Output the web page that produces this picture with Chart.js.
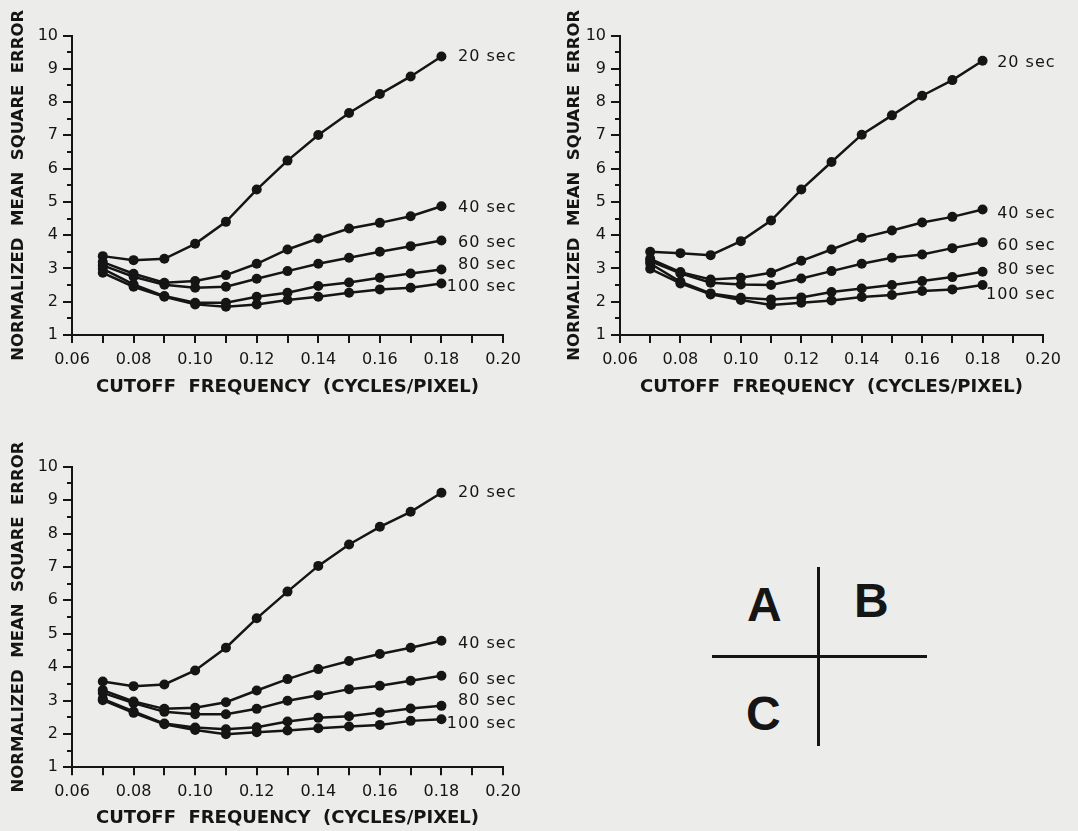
<!DOCTYPE html>
<html>
<head>
<meta charset="utf-8">
<script src="https://cdn.jsdelivr.net/npm/chart.js@4.4.1/dist/chart.umd.min.js"></script>
<style>
  body { margin: 0; background: #ececea; }
  #page { position: relative; width: 1078px; height: 831px; overflow: hidden; }
  canvas { position: absolute; }
  .key-line { position: absolute; background: #151515; }
  .key-letter { position: absolute; font: bold 48px "Liberation Sans", Arial, sans-serif; line-height: 48px; color: #151515; }
</style>
</head>
<body>
<div id="page">
  <canvas id="chartA" width="545" height="400" style="left:0;top:0"></canvas>
  <canvas id="chartB" width="530" height="400" style="left:548px;top:0"></canvas>
  <canvas id="chartC" width="545" height="400" style="left:0;top:431px"></canvas>

  <!-- panel key -->
  <div class="key-line" style="left:817px;top:567px;width:3px;height:179px"></div>
  <div class="key-line" style="left:712px;top:655px;width:215px;height:3px"></div>
  <div class="key-letter" style="left:747px;top:581px">A</div>
  <div class="key-letter" style="left:854px;top:577px">B</div>
  <div class="key-letter" style="left:746px;top:690px">C</div>
</div>

<script>
// cutoff frequencies (cycles/pixel)
const freq = [0.07, 0.08, 0.09, 0.10, 0.11, 0.12, 0.13, 0.14, 0.15, 0.16, 0.17, 0.18];
const seriesNames = ["20 sec", "40 sec", "60 sec", "80 sec", "100 sec"];

// panel A
const a20  = [3.37, 3.25, 3.29, 3.74, 4.40, 5.37, 6.24, 7.01, 7.67, 8.24, 8.77, 9.37];
const a40  = [3.19, 2.84, 2.57, 2.62, 2.80, 3.14, 3.57, 3.90, 4.20, 4.37, 4.57, 4.87];
const a60  = [3.09, 2.75, 2.51, 2.42, 2.45, 2.69, 2.92, 3.14, 3.32, 3.50, 3.67, 3.84];
const a80  = [2.99, 2.52, 2.17, 1.97, 1.97, 2.15, 2.27, 2.47, 2.58, 2.72, 2.85, 2.97];
const a100 = [2.87, 2.45, 2.15, 1.92, 1.85, 1.92, 2.05, 2.15, 2.27, 2.37, 2.42, 2.55];

// panel B
const b20  = [3.50, 3.46, 3.40, 3.82, 4.44, 5.37, 6.20, 7.02, 7.60, 8.19, 8.66, 9.24];
const b40  = [3.29, 2.89, 2.67, 2.72, 2.87, 3.23, 3.57, 3.92, 4.14, 4.38, 4.55, 4.77];
const b60  = [3.22, 2.85, 2.57, 2.52, 2.50, 2.70, 2.92, 3.14, 3.32, 3.42, 3.61, 3.79];
const b80  = [3.15, 2.60, 2.25, 2.12, 2.07, 2.13, 2.29, 2.40, 2.50, 2.62, 2.74, 2.90];
const b100 = [2.99, 2.55, 2.22, 2.05, 1.90, 1.97, 2.04, 2.14, 2.20, 2.32, 2.37, 2.50];

// panel C
const c20  = [3.57, 3.43, 3.48, 3.90, 4.58, 5.46, 6.26, 7.03, 7.67, 8.20, 8.65, 9.22];
const c40  = [3.31, 2.97, 2.75, 2.78, 2.95, 3.30, 3.64, 3.94, 4.18, 4.39, 4.58, 4.79];
const c60  = [3.23, 2.92, 2.66, 2.59, 2.59, 2.75, 2.99, 3.16, 3.34, 3.44, 3.59, 3.74];
const c80  = [3.05, 2.67, 2.31, 2.19, 2.14, 2.20, 2.37, 2.48, 2.53, 2.64, 2.76, 2.84];
const c100 = [3.01, 2.63, 2.29, 2.12, 1.99, 2.05, 2.10, 2.17, 2.22, 2.27, 2.39, 2.44];

const xTitle = "CUTOFF  FREQUENCY  (CYCLES/PIXEL)";
const yTitle = "NORMALIZED  MEAN  SQUARE  ERROR";

const ink = "#151515";
const tickFont = { family: "DejaVu Sans", size: 16 };
const xTitleFont = { family: "DejaVu Sans", size: 18, weight: "bold" };
const yTitleFont = { family: "DejaVu Sans", size: 16.5, weight: "bold" };

// "20 sec" ... labels next to the last point of each curve
const endLabels = {
    id: "endLabels",
    afterDatasetsDraw(chart, args, opts) {
        const ctx = chart.ctx;
        ctx.save();
        ctx.font = '16px "DejaVu Sans"';
        ctx.fillStyle = ink;
        ctx.textAlign = "right";
        ctx.textBaseline = "middle";
        ctx.letterSpacing = "1px";
        chart.data.datasets.forEach((ds, i) => {
            const pts = chart.getDatasetMeta(i).data;
            const last = pts[pts.length - 1];
            ctx.fillText(ds.label, last.x + opts.dx, last.y + opts.dy[i]);
        });
        ctx.restore();
    }
};

// shorter ticks at the half units of the y axis
const minorTicks = {
    id: "minorTicks",
    afterDraw(chart) {
        const y = chart.scales.y;
        const ctx = chart.ctx;
        ctx.save();
        ctx.strokeStyle = ink;
        ctx.lineWidth = 2;
        y.ticks.forEach(t => {
            if (Number.isInteger(t.value)) return;
            const py = Math.round(y.getPixelForValue(t.value));
            ctx.beginPath();
            ctx.moveTo(y.right - 5, py);
            ctx.lineTo(y.right, py);
            ctx.stroke();
        });
        ctx.restore();
    }
};

function makePanel(id, series, layout) {
    new Chart(document.getElementById(id), {
        type: "line",
        data: {
            datasets: series.map((vals, i) => ({
                label: seriesNames[i],
                data: freq.map((f, j) => ({ x: f, y: vals[j] })),
                borderColor: ink,
                backgroundColor: ink,
                borderWidth: 2.5,
                pointRadius: 5,
                pointBorderWidth: 0,
                tension: 0
            }))
        },
        options: {
            responsive: false,
            animation: false,
            events: [],
            layout: { padding: { top: layout.top, right: layout.right, bottom: 0, left: 0 } },
            plugins: {
                legend: { display: false },
                tooltip: { enabled: false },
                endLabels: { dx: layout.labelDx, dy: layout.labelDy }
            },
            scales: {
                x: {
                    type: "linear",
                    min: 0.06,
                    max: 0.20,
                    afterFit: s => { s.height = layout.xHeight; },
                    border: { display: true, color: ink, width: 2 },
                    grid: { drawOnChartArea: false, color: ink, lineWidth: 2, tickLength: 8 },
                    ticks: {
                        stepSize: 0.01,
                        autoSkip: false,
                        maxRotation: 0,
                        color: ink,
                        font: tickFont,
                        padding: 7,
                        callback: v => (Math.round(v * 100) % 2 === 0 ? v.toFixed(2) : "")
                    },
                    title: { display: true, text: xTitle, color: ink, font: xTitleFont, padding: { top: 0, bottom: 2 } }
                },
                y: {
                    min: 1,
                    max: 10,
                    afterFit: s => { s.width = layout.yWidth; },
                    border: { display: true, color: ink, width: 2 },
                    grid: {
                        drawOnChartArea: false,
                        lineWidth: 2,
                        tickLength: 9,
                        color: c => (Number.isInteger(c.tick.value) ? ink : "rgba(0,0,0,0)")
                    },
                    ticks: {
                        stepSize: 0.5,
                        autoSkip: false,
                        color: ink,
                        font: tickFont,
                        padding: 5,
                        callback: v => (Number.isInteger(v) ? String(v) : "")
                    },
                    title: { display: true, text: yTitle, color: ink, font: yTitleFont, padding: { top: layout.yTitlePad, bottom: 0 } }
                }
            }
        },
        plugins: [endLabels, minorTicks]
    });
}

makePanel("chartA", [a20, a40, a60, a80, a100],
    { top: 35.5, right: 42, xHeight: 65, yWidth: 72, yTitlePad: 9, labelDx: 75, labelDy: [0, 2, 2, -5, 3] });
makePanel("chartB", [b20, b40, b60, b80, b100],
    { top: 35.5, right: 35, xHeight: 65, yWidth: 72, yTitlePad: 17, labelDx: 73, labelDy: [2, 4, 4, -2, 10] });
makePanel("chartC", [c20, c40, c60, c80, c100],
    { top: 35.7, right: 42, xHeight: 63.7, yWidth: 72, yTitlePad: 9, labelDx: 75, labelDy: [0, 3, 4, -5, 5] });
</script>
</body>
</html>
